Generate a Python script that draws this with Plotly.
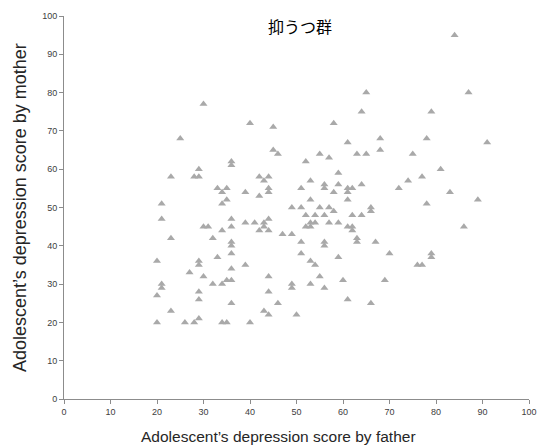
import plotly.graph_objects as go

father_score = [84, 87, 79, 78, 91, 75, 81, 74, 77, 72, 83, 78, 89, 86, 79, 79, 76, 77,
                55, 49, 49, 53, 56, 60, 69, 46, 61, 66, 50,
                45, 46, 55, 57, 63, 65, 52, 59, 53, 56, 56, 59, 64, 51, 58, 61, 61, 62,
                44, 44, 61, 53, 49, 51, 55, 57, 58, 66, 66, 52, 54, 56, 62, 64,
                53, 54, 57, 59, 52, 53, 61, 62, 62, 47, 49, 63, 63, 67, 51, 56, 56,
                51, 59, 70, 53, 54,
                29, 36, 36, 23, 28, 29, 42, 44, 43, 33, 35, 34, 39, 35, 42, 34, 21, 21,
                36, 39, 41, 43, 43, 44, 42, 44, 30, 31, 36, 34, 23, 32, 36, 36, 36, 33,
                20, 29, 29, 39, 27, 36, 30, 44, 21, 21, 20, 32, 34, 35, 36, 29, 29, 44,
                36, 23, 43, 44, 20, 26, 28, 29, 34, 35, 40,
                65, 30, 64, 40, 58, 45, 25, 68, 61, 68]
mother_score = [95, 80, 75, 68, 67, 64, 60, 57, 58, 55, 54, 51, 52, 45, 38, 37, 35, 35,
                32, 30, 29, 30, 29, 31, 31, 25, 26, 25, 22,
                65, 64, 64, 63, 64, 64, 62, 59, 57, 56, 55, 56, 56, 55, 54, 55, 54, 55,
                55, 54, 52, 52, 50, 50, 50, 50, 49, 50, 49, 48, 48, 48, 48, 48,
                46, 46, 46, 46, 45, 45, 45, 45, 44, 43, 43, 42, 41, 41, 41, 41, 40,
                38, 37, 38, 36, 35,
                60, 62, 61, 58, 58, 58, 58, 58, 57, 55, 55, 54, 54, 52, 53, 51, 51, 47,
                47, 46, 46, 46, 45, 47, 44, 44, 45, 45, 45, 44, 42, 42, 41, 40, 38, 37,
                36, 36, 35, 35, 33, 34, 32, 32, 30, 29, 27, 30, 30, 31, 31, 28, 26, 28,
                25, 23, 23, 22, 20, 20, 20, 21, 20, 20, 20,
                80, 77, 75, 72, 72, 71, 68, 68, 67, 65]

tick_vals = list(range(0, 101, 10))
title_text = "抑うつ群"
x_title = "Adolescent’s depression score by father"
y_title = "Adolescent’s depression score by mother"

fig = go.Figure(go.Scatter(
    x=father_score, y=mother_score, mode="markers",
    marker=dict(symbol="triangle-up", size=7, color="#a9a9a9", line=dict(width=0)),
))

axis_common = dict(
    range=[0, 100], tickvals=tick_vals, showgrid=False, zeroline=False,
    showline=True, linecolor="#8c8c8c", linewidth=1, automargin=False,
    ticks="outside", ticklen=4, tickcolor="#8c8c8c",
    tickfont=dict(family="Liberation Sans, Arial, sans-serif", size=9, color="#404040"),
)

# the page body adds an 8px offset, so the figure is sized/margined to compensate
L, T, PW, PH = 56, 8, 465, 383


def px(x):
    return (x - 8 - L) / PW


def py(y):
    return (T + PH - (y - 8)) / PH


fig.update_layout(
    width=540, height=440,
    margin=dict(l=L, r=540 - L - PW, t=T, b=440 - T - PH),
    paper_bgcolor="white", plot_bgcolor="white",
    showlegend=False,
    xaxis=axis_common,
    yaxis=axis_common,
    annotations=[
        dict(text=title_text, xref="paper", yref="paper", x=px(300), y=py(26),
             xanchor="center", yanchor="middle", showarrow=False,
             font=dict(family="Noto Sans CJK JP", size=16, color="#000000")),
        dict(text=x_title, xref="paper", yref="paper", x=px(278), y=py(436),
             xanchor="center", yanchor="middle", showarrow=False,
             font=dict(family="Liberation Sans, Arial, sans-serif", size=15.5, color="#262626")),
        dict(text=y_title, xref="paper", yref="paper", x=px(20), y=py(208),
             xanchor="center", yanchor="middle", showarrow=False, textangle=-90,
             font=dict(family="Liberation Sans, Arial, sans-serif", size=18, color="#262626")),
    ],
)

fig.write_html("out.html")
